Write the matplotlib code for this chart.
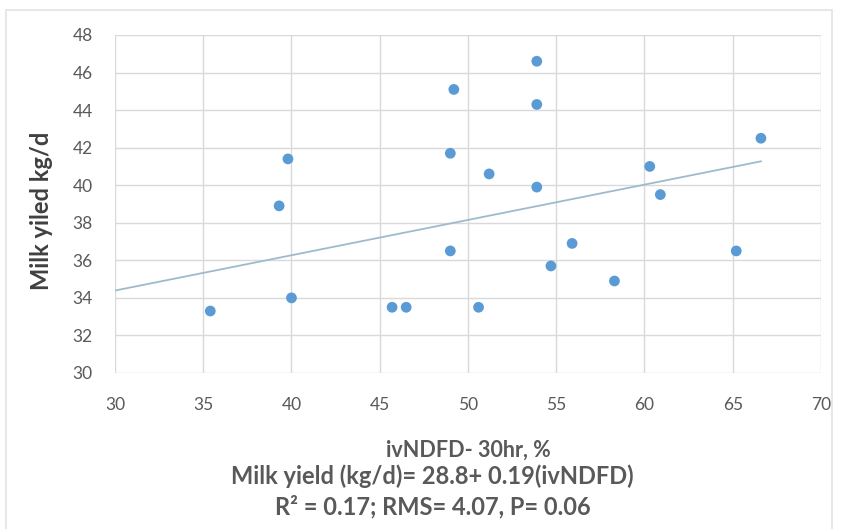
import numpy as np
import matplotlib
matplotlib.use('Agg')
import matplotlib.pyplot as plt
from matplotlib.patches import Rectangle

# ivNDFD (30 hr, %) and milk yield (kg/d)
ivndfd = [35.4, 39.3, 39.8, 40.0, 45.7, 46.5, 49.0, 49.0, 49.2, 50.6, 51.2,
          53.9, 53.9, 53.9, 54.7, 55.9, 58.3, 60.3, 60.9, 65.2, 66.6]
milk_yield = [33.3, 38.9, 41.4, 34.0, 33.5, 33.5, 36.5, 41.7, 45.1, 33.5, 40.6,
              46.6, 44.3, 39.9, 35.7, 36.9, 34.9, 41.0, 39.5, 36.5, 42.5]

# trend line as drawn in the chart
trend_intercept = 28.75
trend_slope = 0.188

x_ticks = [30, 35, 40, 45, 50, 55, 60, 65, 70]
y_ticks = [30, 32, 34, 36, 38, 40, 42, 44, 46, 48]

plt.rcParams['font.family'] = ['Lato', 'DejaVu Sans']

fig = plt.figure(figsize=(8.48, 5.29), dpi=100)
ax = fig.add_axes([0.1356, 0.2949, 0.8325, 0.639])

# faint outer chart border
fig.patches.append(Rectangle((6 / 848, -0.01), 826 / 848, 1 - 10 / 529 + 0.01,
                             transform=fig.transFigure, fill=False,
                             edgecolor='#e3e3e3', linewidth=1.2))

ax.scatter(ivndfd, milk_yield, s=60, color='#5b9bd5', zorder=3, edgecolors='none')

xs = np.array([30, max(ivndfd)])
ax.plot(xs, trend_intercept + trend_slope * xs, color='#9dbccb', linewidth=1.3, zorder=2)

ax.set_xlim(30, 70)
ax.set_ylim(30, 48)
ax.set_xticks(x_ticks)
ax.set_yticks(y_ticks)
ax.grid(True, color='#d9d9d9', linewidth=1)
ax.set_axisbelow(True)
for s in ax.spines.values():
    s.set_visible(False)
ax.tick_params(length=0, labelsize=12.5, labelcolor='#595959')
ax.tick_params(axis='x', pad=17)
ax.tick_params(axis='y', pad=16)

ax.set_ylabel('Milk yiled kg/d', fontsize=17, fontweight='bold', color='#404040')
ax.yaxis.set_label_coords(-0.088, 0.48)
ax.set_xlabel('ivNDFD- 30hr, %', fontsize=15.5, fontweight='bold', color='#595959')
ax.xaxis.set_label_coords(0.5, -0.198)

fig.text(0.51, 1 - 476 / 529, 'Milk yield (kg/d)= 28.8+ 0.19(ivNDFD)', ha='center', va='center',
         fontsize=17, fontweight='bold', color='#595959')
fig.text(0.51, 1 - 507 / 529, 'R² = 0.17; RMS= 4.07, P= 0.06', ha='center', va='center',
         fontsize=17, fontweight='bold', color='#595959')

fig.savefig('out.png', dpi=100, facecolor='white')
